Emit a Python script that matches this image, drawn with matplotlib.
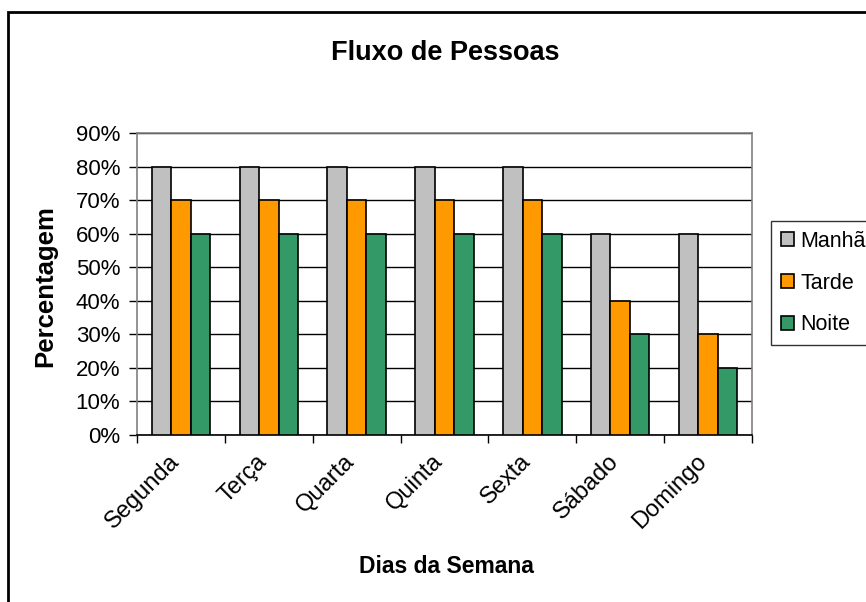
import numpy as np
import matplotlib
matplotlib.use("Agg")
import matplotlib.pyplot as plt
import matplotlib.transforms as mtransforms
from matplotlib.patches import Rectangle
from matplotlib.ticker import FixedLocator, PercentFormatter

plt.rcParams["font.family"] = ["Liberation Sans", "DejaVu Sans"]

dias = ["Segunda", "Terça", "Quarta", "Quinta", "Sexta", "Sábado", "Domingo"]
manha = [80, 80, 80, 80, 80, 60, 60]
tarde = [70, 70, 70, 70, 70, 40, 30]
noite = [60, 60, 60, 60, 60, 30, 20]
series = ["Manhã", "Tarde", "Noite"]
cores = ["#C0C0C0", "#FF9900", "#339966"]

W, H = 866, 602
fig = plt.figure(figsize=(W / 100, H / 100), dpi=100)
ax = fig.add_axes([137 / W, 167 / H, 615 / W, 302 / H])

x = np.arange(len(dias))
w = 0.222
for i, (vals, nome, cor) in enumerate(zip([manha, tarde, noite], series, cores)):
    ax.bar(x + (i - 1) * w, vals, width=w, color=cor, edgecolor="black",
           linewidth=1.2, label=nome, zorder=3)

ax.set_xlim(-0.5, len(dias) - 0.5)
ax.set_ylim(0, 90)
ax.yaxis.set_major_locator(FixedLocator(np.arange(0, 91, 10)))
ax.yaxis.set_major_formatter(PercentFormatter(decimals=0))
ax.grid(axis="y", color="black", linewidth=1, zorder=0)
ax.axhline(90, color="#808080", linewidth=1.2, zorder=1)

# labels at category centres, tick marks between categories
ax.set_xticks(x)
ax.set_xticklabels(dias, rotation=45, ha="right", rotation_mode="anchor")
ax.tick_params(axis="x", which="major", length=0, pad=14, labelsize=17)
shift = mtransforms.ScaledTranslation(-0.13, 0.04, fig.dpi_scale_trans)
for lbl in ax.get_xticklabels():
    lbl.set_transform(lbl.get_transform() + shift)
ax.set_xticks(np.arange(-0.5, len(dias)), minor=True)
ax.tick_params(axis="x", which="minor", length=6, width=1, color="black")
ax.tick_params(axis="y", length=6, width=1, labelsize=16, pad=6)

for s in ["left", "right", "top"]:
    ax.spines[s].set_color("#808080")
    ax.spines[s].set_linewidth(1.2)
ax.spines["bottom"].set_color("black")
ax.spines["bottom"].set_linewidth(1.2)

fig.text(445 / W, 1 - 60 / H, "Fluxo de Pessoas", fontsize=19.5,
         fontweight="bold", ha="center", va="baseline")
fig.text(446 / W, 1 - 573 / H, "Dias da Semana", fontsize=16.5,
         fontweight="bold", ha="center", va="baseline")
fig.text(45 / W, 1 - 286 / H, "Percentagem", fontsize=18.5,
         fontweight="bold", ha="center", va="center", rotation=90)

leg = fig.legend(loc="upper left", bbox_to_anchor=(771 / W, 1 - 221 / H),
                 fontsize=15.5, frameon=True, fancybox=False, edgecolor="black",
                 handlelength=0.6, handleheight=0.6, handletextpad=0.3,
                 labelspacing=0.97, borderpad=0.45, borderaxespad=0)
leg.get_frame().set_linewidth(1)

# outer chart border, runs off the right and bottom edges
fig.patches.append(Rectangle((8 / W, -0.05), 1.0, 1 - 12 / H + 0.05,
                             transform=fig.transFigure, fill=False,
                             edgecolor="black", linewidth=2))

fig.savefig("out.png", dpi=100)
